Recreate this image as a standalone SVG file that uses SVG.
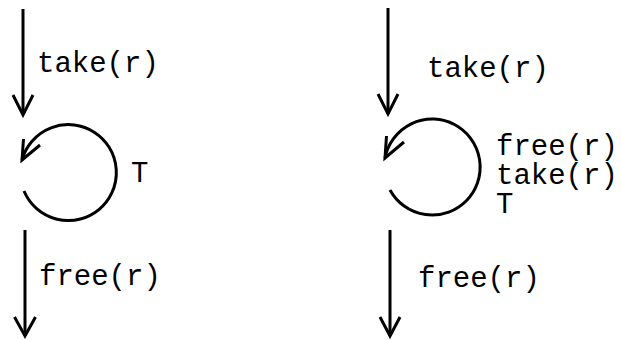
<svg xmlns="http://www.w3.org/2000/svg" width="621" height="340" viewBox="0 0 621 340">
<style>
.c{fill:none;stroke:#000;stroke-width:3;stroke-linecap:butt;stroke-linejoin:miter}
.t{font-family:"Liberation Mono","Courier New",monospace;font-size:29px;fill:#000}
</style>
<rect width="621" height="340" fill="#fff"/>
<g id="connectors">
<g id="left-in"><line class="c" x1="23" y1="9" x2="23" y2="115"/><polyline class="c" points="13,95 23,115 33,95"/></g>
<g id="left-loop"><path class="c" d="M24,191 A48,48 0 1 0 22,160"/><polyline class="c" points="23.5,139 22,160 40,145"/></g>
<g id="left-out"><line class="c" x1="25" y1="230" x2="25" y2="336"/><polyline class="c" points="14.5,317 25,336 35.5,317"/></g>
<g id="right-in"><line class="c" x1="388" y1="8" x2="388" y2="114"/><polyline class="c" points="378,94 388,114 398,94"/></g>
<g id="right-loop"><path class="c" d="M390,190 A48,48 0 1 0 385,158"/><polyline class="c" points="386.5,136 385,158 404,142"/></g>
<g id="right-out"><line class="c" x1="390" y1="230" x2="390" y2="336"/><polyline class="c" points="380,317 390,336 400,317"/></g>
</g>
<g id="left-labels">
<text class="t" x="37" y="72">take(r)</text>
<text class="t" x="131" y="182">T</text>
<text class="t" x="39" y="285">free(r)</text>
</g>
<g id="right-labels">
<text class="t" x="427" y="77">take(r)</text>
<text class="t" x="496" y="155">free(r)<tspan x="496" dy="29">take(r)</tspan><tspan x="496" dy="29">T</tspan></text>
<text class="t" x="418" y="287">free(r)</text>
</g>
</svg>
